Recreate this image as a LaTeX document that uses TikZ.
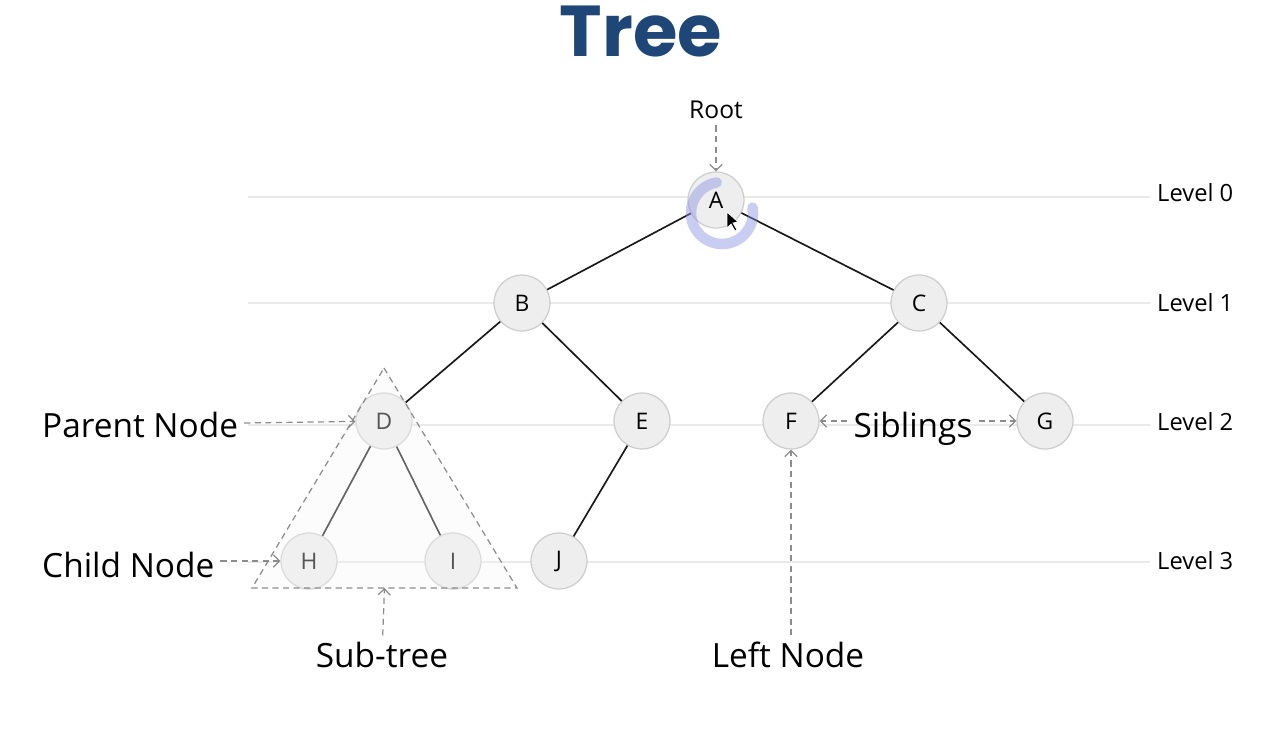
\documentclass[tikz,border=0pt]{standalone}
\usepackage{fontspec}
\setmainfont{Open Sans}
\newfontfamily\titlefont{Poppins}
\definecolor{TitleBlue}{RGB}{30,70,118}
\definecolor{NodeFill}{RGB}{238,238,238}
\definecolor{NodeLine}{RGB}{205,205,205}
\definecolor{LevelGray}{RGB}{234,234,234}
\definecolor{HintGray}{RGB}{140,140,140}
\definecolor{CursorBlue}{RGB}{135,145,225}
\usetikzlibrary{arrows.meta, positioning, calc}

\begin{document}
\begin{tikzpicture}[x=0.02cm, y=-0.02cm,
    treenode/.style={circle, fill=NodeFill, draw=NodeLine, line width=0.7pt,
      minimum size=1.12cm, inner sep=0pt, font=\fontsize{13}{15}\selectfont},
    edge/.style={line width=0.95pt, black!90},
    levelline/.style={LevelGray, line width=0.6pt},
    levellabel/.style={anchor=base west, font=\fontsize{13.5}{16}\selectfont},
    hint/.style={anchor=base, font=\fontsize{19}{22}\selectfont},
    hintarrow/.style={HintGray, line width=0.7pt, dash pattern=on 3.5pt off 2.5pt,
      -{Straight Barb[length=3.5pt,width=7pt]}}]
      \useasboundingbox (0,0) rectangle (1280,736);
      \node[font=\titlefont\bfseries\fontsize{41}{45}\selectfont, text=TitleBlue] (title) at (641,32) {Tree};

      % Levels
      \foreach \y/\n/\b in {197/0/202, 303/1/312, 425/2/430, 562/3/569} {
        \draw[levelline] (248,\y) -- (1150,\y);
        \node[levellabel] (lev\n) at (1151,\b) {Level \n};
      }

      \node[treenode] (A) at (716,200) {A};
      \node[treenode] (B) at (522,303) {B};
      \node[treenode] (C) at (919,303) {C};
      \node[treenode] (D) at (384,421) {D};
      \node[treenode] (E) at (642,421) {E};
      \node[treenode] (F) at (791,421) {F};
      \node[treenode] (G) at (1045,421) {G};
      \node[treenode] (H) at (309,561) {H};
      \node[treenode] (I) at (453,561) {I};
      \node[treenode] (J) at (559,561) {J};
      \foreach \a/\b in {A/B, A/C, B/D, B/E, C/F, C/G, D/H, D/I, E/J}
        \draw[edge] (\a) -- (\b);

      % Sub-tree
      \coordinate (subtop) at (384,368);
      \coordinate (subleft) at (252,588);
      \coordinate (subright) at (517,588);
      \coordinate (subbase) at ($(subleft)!0.5!(subright)$);
      \draw[HintGray, line width=0.7pt, dash pattern=on 3.5pt off 2.5pt,
            fill=gray!8, fill opacity=0.35]
            (subtop) -- (subright) -- (subleft) -- cycle;

      \node[hint, font=\fontsize{14}{16}\selectfont] (root) at (716,119) {Root};
      \node[hint, anchor=base west] (parent) at (36,437) {Parent Node};
      \node[hint, anchor=base west] (child) at (36,577) {Child Node};
      \node[hint] (subtree) at (382,667) {Sub-tree};
      \node[hint] (leftnode) at (788,667) {Left Node};
      \node[hint] (siblings) at (913,437) {Siblings};

      \draw[hintarrow] (root) -- (A);
      \draw[hintarrow] (parent) -- (D);
      \draw[hintarrow] (child.east |- H) -- (H);
      \draw[hintarrow] (subtree) -- (subbase);
      \draw[hintarrow] (F.south |- leftnode.north) -- (F);
      \draw[hintarrow] (siblings.west |- F.east) -- (F);
      \draw[hintarrow] (siblings.east |- G.west) -- (G);

      % Cursor
      \draw[CursorBlue, line width=6pt, opacity=0.45, line cap=round]
            ([shift={(-100:31)}]722,213) arc[start angle=-100, end angle=-370, radius=31];
      \draw[fill=black, draw=white, line width=0.4pt]
            (727,212) -- (727,228) -- (731,224) -- (735,231) -- (737,230)
            -- (733,223) -- (738,222) -- cycle;
    \end{tikzpicture}
\end{document}
